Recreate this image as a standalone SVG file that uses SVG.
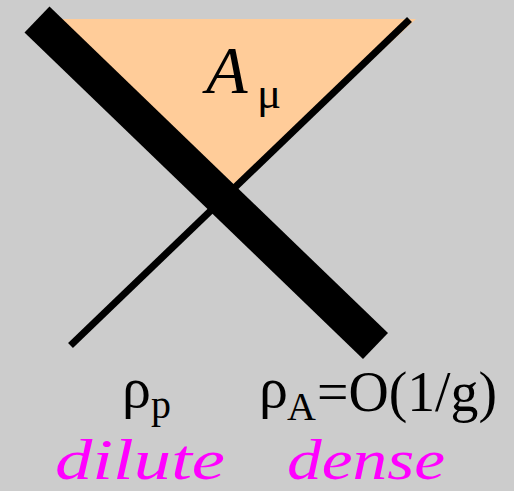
<svg xmlns="http://www.w3.org/2000/svg" width="514" height="491" viewBox="0 0 514 491">
<style>
.blk{font-family:"Liberation Serif","DejaVu Serif",serif;fill:#000}
.it{font-style:italic}
.mag{font-family:"Liberation Serif","DejaVu Serif",serif;font-style:italic;fill:#FF00FF;font-size:56px}
</style>
<rect width="514" height="491" fill="#CCCCCC"/>
<g id="region">
<polygon points="40,19 416,19 236,186" fill="#FFCC99"/>
</g>
<g id="connectors">
<line x1="70.5" y1="345.5" x2="409.5" y2="19.5" stroke="#000" stroke-width="7"/>
<line x1="37" y1="19.5" x2="375.5" y2="346" stroke="#000" stroke-width="36"/>
</g>
<g id="label-A">
<text class="blk it" x="206" y="93" font-size="68">A</text>
<text class="blk" x="257" y="108" font-size="45">μ</text>
</g>
<g id="label-rhop">
<text class="blk" x="122" y="407" font-size="58">ρ</text>
<text class="blk" x="151" y="418" font-size="40">p</text>
</g>
<g id="label-rhoA">
<text class="blk" x="259" y="407" font-size="58">ρ</text>
<text class="blk" x="287" y="420" font-size="40">A</text>
<text class="blk" x="317" y="411" font-size="58" textLength="180" lengthAdjust="spacingAndGlyphs">=O(1/g)</text>
</g>
<g id="label-dilute">
<text class="mag" x="55" y="479" textLength="170" lengthAdjust="spacingAndGlyphs">dilute</text>
</g>
<g id="label-dense">
<text class="mag" x="287" y="479" textLength="158" lengthAdjust="spacingAndGlyphs">dense</text>
</g>
</svg>
